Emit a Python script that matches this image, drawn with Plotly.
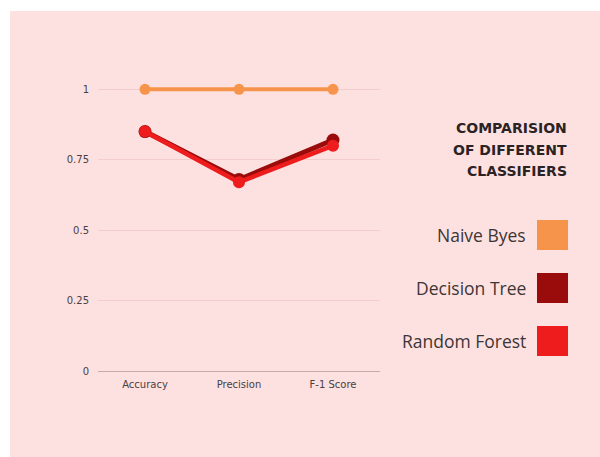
import plotly.graph_objects as go

categories = ["Accuracy", "Precision", "F-1 Score"]
naive_bayes = [1.0, 1.0, 1.0]
decision_tree = [0.85, 0.68, 0.82]
random_forest = [0.85, 0.67, 0.80]
y_ticks = [0, 0.25, 0.5, 0.75, 1]
y_tick_labels = ["0", "0.25", "0.5", "0.75", "1"]
title_lines = ["COMPARISION", "OF DIFFERENT", "CLASSIFIERS"]

series = [
    ("Naive Byes", naive_bayes, "#F7944C", 4, 11),
    ("Decision Tree", decision_tree, "#9A0B0B", 5, 13),
    ("Random Forest", random_forest, "#EE1C1C", 4.5, 12),
]

W, H = 600, 457
L, R, T, B = 98, 220, 33, 86
PW, PH = W - L - R, H - T - B

def px(x):
    return (x - L) / PW

def py(y):
    return (H - B - y) / PH

fig = go.Figure()
for name, vals, color, lw, ms in series:
    fig.add_trace(go.Scatter(
        x=categories, y=vals, mode="lines+markers", name=name,
        line=dict(color=color, width=lw),
        marker=dict(color=color, size=ms),
        showlegend=False,
    ))

shapes = [dict(type="rect", xref="paper", yref="paper",
               x0=px(10), x1=px(600), y0=py(457), y1=py(11),
               fillcolor="#FDE1E1", line=dict(width=0), layer="below")]
annotations = []
for line, cy in zip(title_lines, [128, 149.5, 171]):
    annotations.append(dict(text="<b>" + line + "</b>",
                            xref="paper", yref="paper", x=px(569), y=py(cy),
                            xanchor="right", yanchor="middle", align="right",
                            showarrow=False,
                            font=dict(family="DejaVu Sans", size=14, color="#2b2323")))
centers = [235, 288, 341]
for (name, vals, color, lw, ms), cy in zip(series, centers):
    shapes.append(dict(type="rect", xref="paper", yref="paper",
                       x0=px(537), x1=px(568), y0=py(cy + 15), y1=py(cy - 15),
                       fillcolor=color, line=dict(width=0)))
    annotations.append(dict(text=name, xref="paper", yref="paper",
                            x=px(528), y=py(cy), xanchor="right", yanchor="middle",
                            showarrow=False,
                            font=dict(family="Open Sans, Arial", size=17.5, color="#3d3535")))

fig.update_layout(
    width=W, height=H,
    margin=dict(l=L, r=R, t=T, b=B),
    paper_bgcolor="white",
    plot_bgcolor="rgba(0,0,0,0)",
    shapes=shapes,
    annotations=annotations,
    xaxis=dict(showgrid=False, zeroline=False, showline=False,
               tickfont=dict(family="DejaVu Sans", size=10, color="#4a4040"),
               ticks="", range=[-0.5, 2.5], ticklabelstandoff=6),
    yaxis=dict(range=[0, 1.2], tickvals=y_ticks, ticktext=y_tick_labels,
               showgrid=True, gridcolor="#F3CDCD", gridwidth=1,
               zeroline=True, zerolinecolor="#C9A8A8", zerolinewidth=1,
               showline=False, ticks="", ticklabelstandoff=8,
               tickfont=dict(family="DejaVu Sans", size=10, color="#4a4040")),
)

fig.write_html("out.html")
